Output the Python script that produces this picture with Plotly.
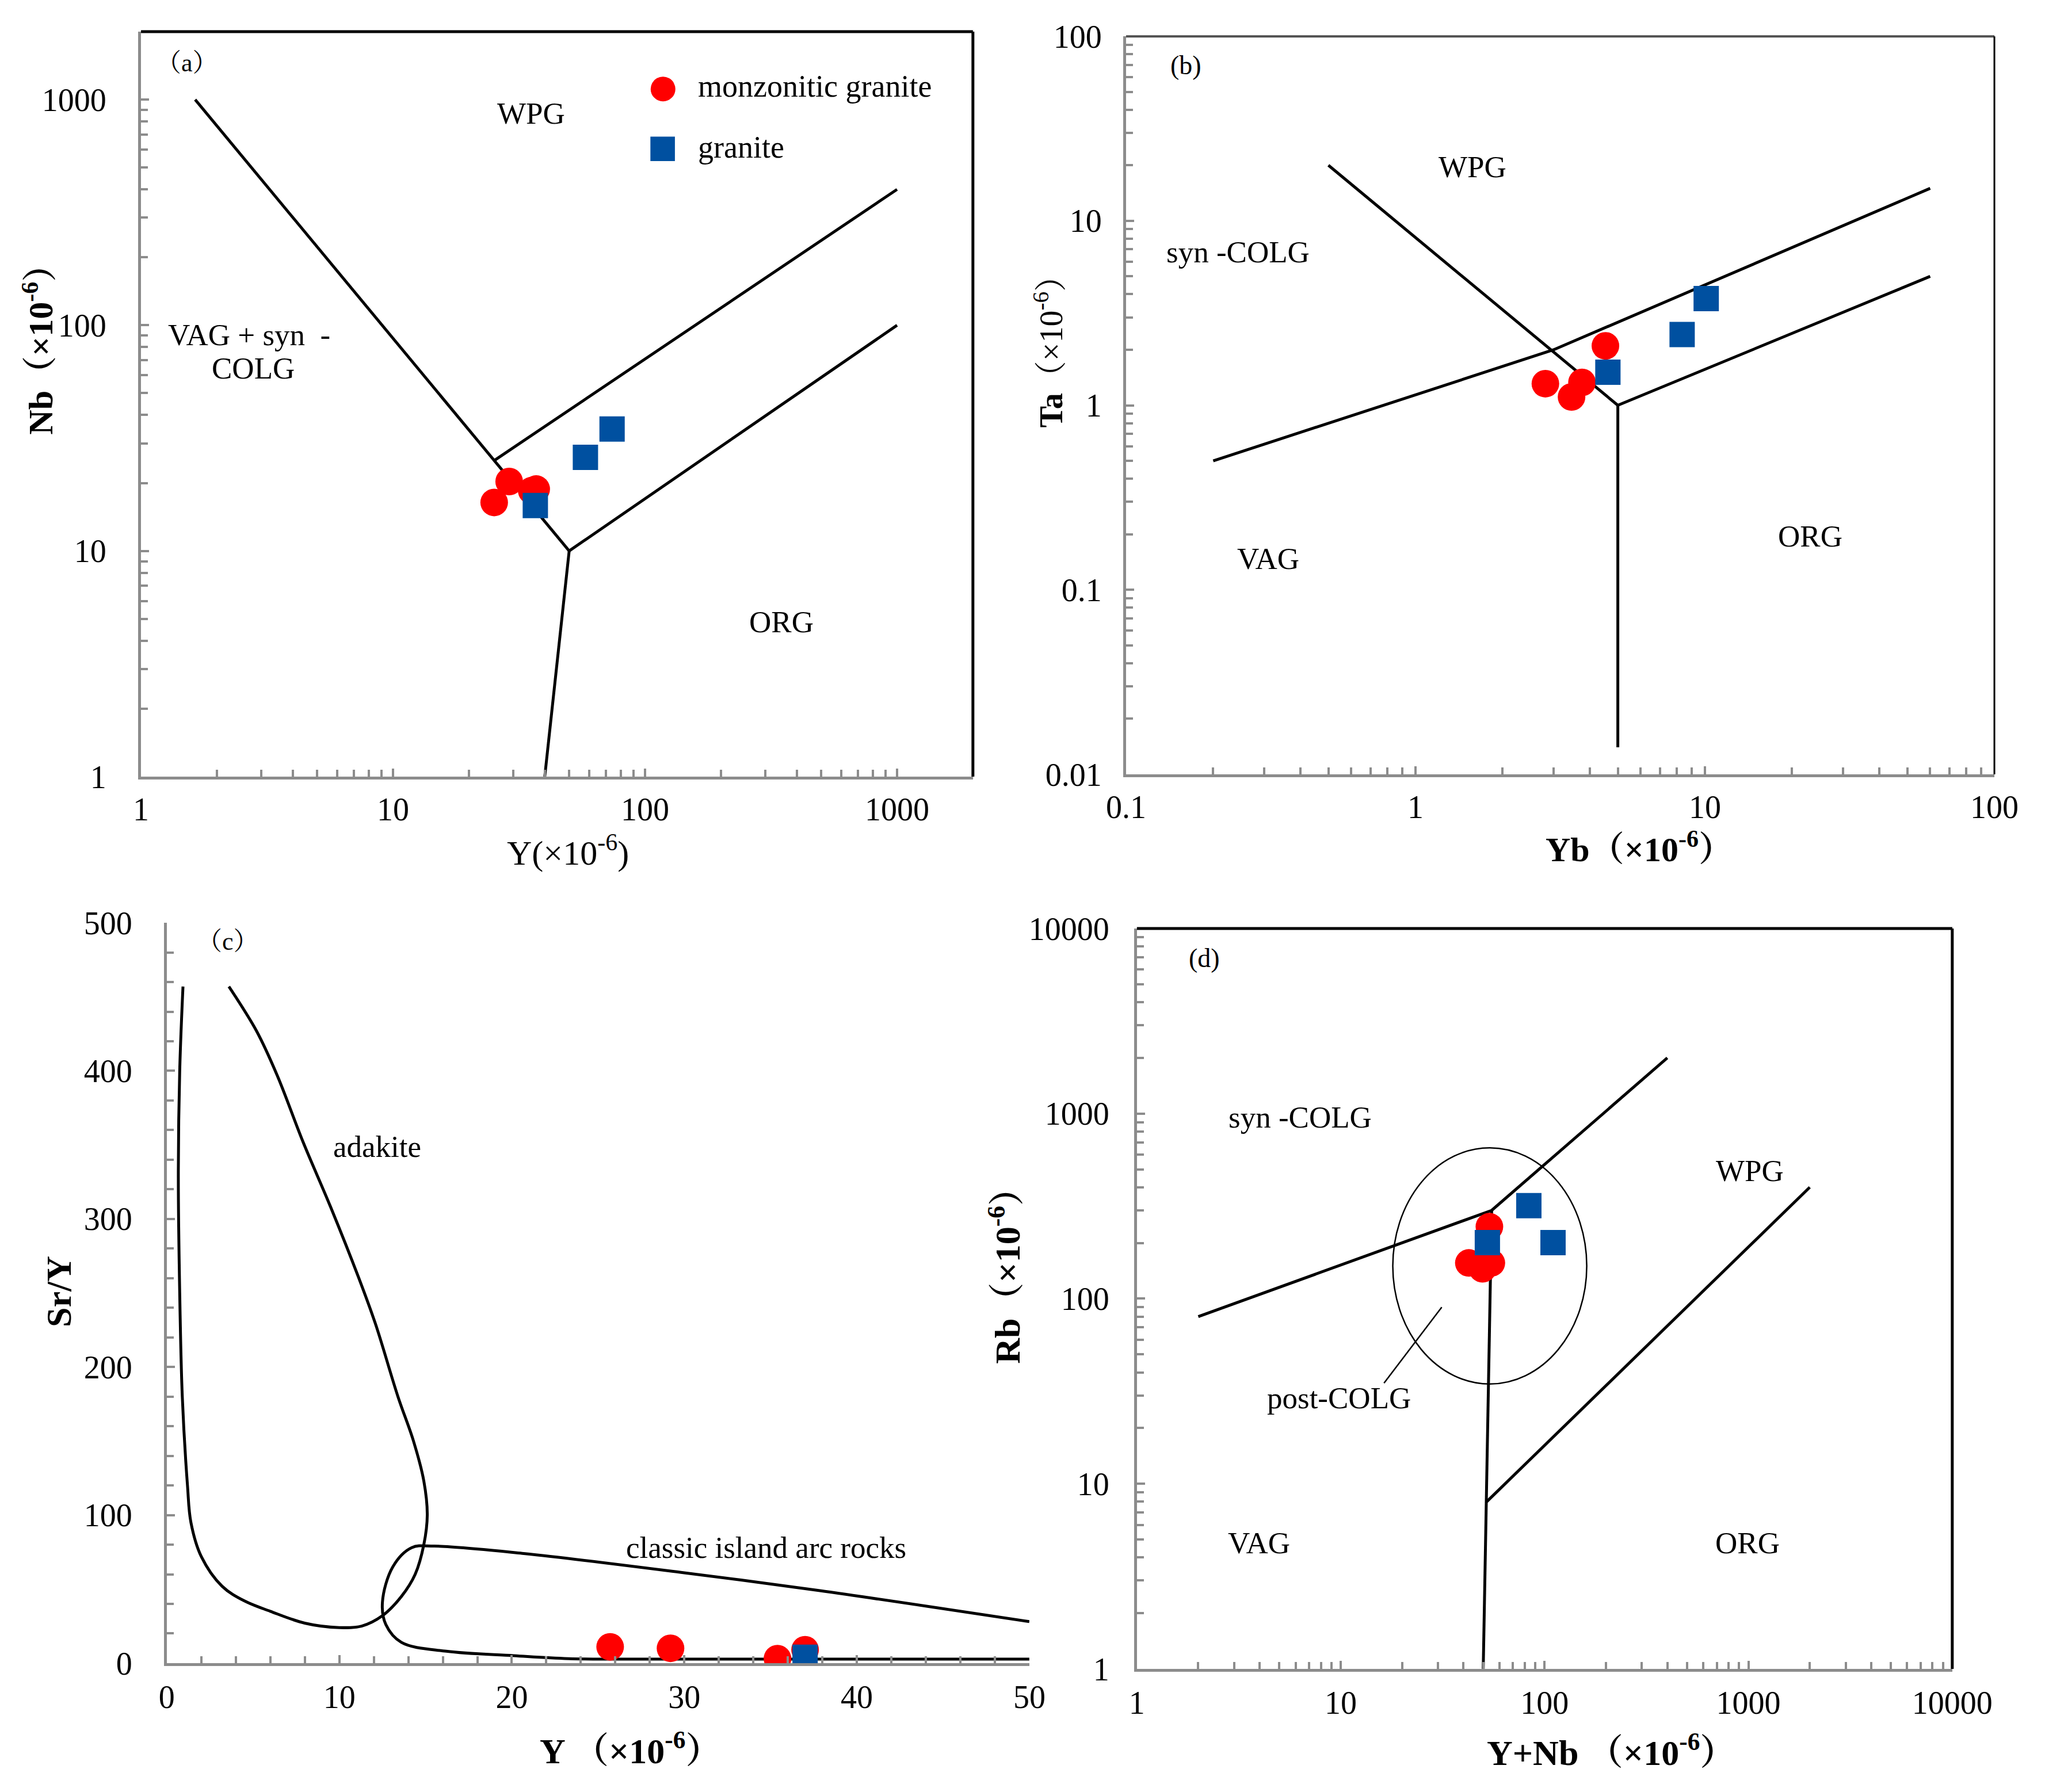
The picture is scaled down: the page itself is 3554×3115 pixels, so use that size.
import plotly.graph_objects as go

FONT = "Liberation Serif, Noto Serif CJK SC, Noto Sans CJK SC, serif"
GREY = "#8c8c8c"
RED = "#ff0000"
BLUE = "#0050a0"

# ---------------- (a) Y vs Nb ----------------
a_mg_Y = [25.2, 28.9, 35.5, 37.0]
a_mg_Nb = [16.4, 20.3, 18.5, 18.8]
a_gr_Y = [36.7, 58.0, 74.0]
a_gr_Nb = [15.9, 26.0, 34.7]
a_line1_x = [1.64, 50]          # WPG / VAG+syn-COLG
a_line1_y = [1000, 10]
a_line2_x = [25, 1000]          # WPG / ORG
a_line2_y = [25, 400]
a_line3_x = [50, 1000]          # ORG lower
a_line3_y = [10, 100]
a_line4_x = [50, 40]            # VAG / ORG
a_line4_y = [10, 1]

# ---------------- (b) Yb vs Ta ----------------
b_mg_Yb = [2.81, 3.46, 3.76, 4.53]
b_mg_Ta = [1.31, 1.11, 1.33, 2.10]
b_gr_Yb = [4.62, 8.34, 10.1]
b_gr_Ta = [1.51, 2.42, 3.79]
b_line1_x = [0.5, 5]
b_line1_y = [20, 1]
b_line2_x = [0.2, 3, 60]
b_line2_y = [0.5, 2, 15]
b_line3_x = [5, 60]
b_line3_y = [1, 5]
b_line4_x = [5, 5]
b_line4_y = [1, 0.014]

# ---------------- (c) Y vs Sr/Y ----------------
c_mg_Y = [25.7, 29.2, 35.4, 37.0]
c_mg_SrY = [11, 10, 3, 9]
c_gr_Y = [37.0]
c_gr_SrY = [4]
adakite_x = [0.94, 0.75, 0.67, 0.75, 0.9, 1.2, 1.4, 2.0, 3.2, 4.5, 6.0, 8.0, 10.0, 11.3,
             12.5, 13.6, 14.4, 14.9, 15.1, 14.9, 14.3, 13.4, 12.1, 11.1, 9.5, 7.9, 6.4, 5.2, 3.6]
adakite_y = [457, 400, 330, 250, 180, 120, 95, 72, 52, 42, 35, 27, 24, 25,
             32, 45, 60, 80, 100, 123, 150, 180, 229, 261, 308, 352, 397, 427, 457]
arc_x = [50, 37.8, 30, 20.7, 15.5, 14.2, 13.1, 12.5, 12.7, 13.6, 16.2, 20.1, 23.3, 30, 50]
arc_y = [28, 49, 61, 74, 79, 78, 65, 41, 26, 14, 8, 5, 3, 2.7, 2.7]

# ---------------- (d) Y+Nb vs Rb ----------------
d_mg_YNb = [42.5, 49.6, 54.8, 53.6]
d_mg_Rb = [156, 145, 156, 245]
d_gr_YNb = [52.4, 83.7, 110]
d_gr_Rb = [201, 318, 201]
d_line1_x = [2, 55, 400]
d_line1_y = [80, 300, 2000]
d_line2_x = [55, 52, 50]
d_line2_y = [300, 8, 1]
d_line3_x = [52, 2000]
d_line3_y = [8, 400]
d_ptr_x = [31.3, 16.3]
d_ptr_y = [90, 35]
d_ellipse_x = [18, 161]
d_ellipse_y = [34.6, 653]

fig = go.Figure()


def add_line(x, y, xa, ya, width=5, shape="linear"):
    fig.add_trace(go.Scatter(x=x, y=y, mode="lines", xaxis=xa, yaxis=ya,
                             line=dict(color="black", width=width, shape=shape),
                             showlegend=False, hoverinfo="skip"))


def add_points(x, y, xa, ya, name, sym, color, size):
    fig.add_trace(go.Scatter(x=x, y=y, mode="markers", xaxis=xa, yaxis=ya, name=name,
                             marker=dict(symbol=sym, color=color, size=size, line=dict(width=0)),
                             showlegend=False))


# panel a
for lx, ly in [(a_line1_x, a_line1_y), (a_line2_x, a_line2_y), (a_line3_x, a_line3_y), (a_line4_x, a_line4_y)]:
    add_line(lx, ly, "x", "y")
add_points(a_mg_Y, a_mg_Nb, "x", "y", "monzonitic granite", "circle", RED, 48)
add_points(a_gr_Y, a_gr_Nb, "x", "y", "granite", "square", BLUE, 44)

# panel b
for lx, ly in [(b_line1_x, b_line1_y), (b_line2_x, b_line2_y), (b_line3_x, b_line3_y), (b_line4_x, b_line4_y)]:
    add_line(lx, ly, "x2", "y2")
add_points(b_mg_Yb, b_mg_Ta, "x2", "y2", "monzonitic granite", "circle", RED, 48)
add_points(b_gr_Yb, b_gr_Ta, "x2", "y2", "granite", "square", BLUE, 44)

# panel c
add_line(adakite_x, adakite_y, "x3", "y3", width=5, shape="spline")
add_line(arc_x, arc_y, "x3", "y3", width=5, shape="spline")
add_points(c_mg_Y, c_mg_SrY, "x3", "y3", "monzonitic granite", "circle", RED, 48)
add_points(c_gr_Y, c_gr_SrY, "x3", "y3", "granite", "square", BLUE, 44)

# panel d
for lx, ly in [(d_line1_x, d_line1_y), (d_line2_x, d_line2_y), (d_line3_x, d_line3_y)]:
    add_line(lx, ly, "x4", "y4")
add_line(d_ptr_x, d_ptr_y, "x4", "y4", width=2.5)
add_points(d_mg_YNb, d_mg_Rb, "x4", "y4", "monzonitic granite", "circle", RED, 48)
add_points(d_gr_YNb, d_gr_Rb, "x4", "y4", "granite", "square", BLUE, 44)


def log_minor(lo, hi):
    vals = []
    for k in range(lo, hi):
        for m in range(2, 10):
            vals.append(m * 10 ** k)
    return vals


def ax(**kw):
    base = dict(showline=True, linecolor=GREY, linewidth=5, ticks="inside", tickcolor=GREY,
                tickwidth=4, ticklen=14, showgrid=False, zeroline=False, automargin=False,
                tickfont=dict(family=FONT, size=56, color="black"))
    base.update(kw)
    return base


def logax(vals, texts, minor_vals, rng, **kw):
    return ax(type="log", range=rng, tickmode="array", tickvals=vals, ticktext=texts,
              minor=dict(tickmode="array", tickvals=minor_vals, ticks="inside", ticklen=12,
                         tickcolor=GREY, tickwidth=4, showgrid=False), **kw)


fig.update_layout(
    width=3554, height=3115,
    margin=dict(l=0, r=0, t=0, b=0),
    paper_bgcolor="white", plot_bgcolor="white",
    showlegend=False,
    font=dict(family=FONT, color="black"),
    xaxis=logax([1, 10, 100, 1000], ["1", "10", "100", "1000"], log_minor(0, 4), [0, 3.301],
                domain=[0.0667, 0.4735], anchor="y", ticklabelstandoff=4),
    yaxis=logax([1, 10, 100, 1000], ["1", "10", "100", "1000"], log_minor(0, 4), [0, 3.301],
                domain=[0.5692, 0.9849], anchor="x", ticklabelstandoff=44),
    xaxis2=logax([0.1, 1, 10, 100], ["0.1", "1", "10", "100"], log_minor(-1, 2), [-1, 2],
                 domain=[0.5484, 0.9730], anchor="y2", ticklabelstandoff=4),
    yaxis2=logax([0.01, 0.1, 1, 10, 100], ["0.01", "0.1", "1", "10", "100"], log_minor(-2, 2), [-2, 2],
                 domain=[0.5705, 0.9823], anchor="x2", ticklabelstandoff=26),
    xaxis3=ax(range=[0, 50], tickmode="array", tickvals=[0, 10, 20, 30, 40, 50],
              minor=dict(dtick=2, ticks="inside", ticklen=12, tickcolor=GREY, tickwidth=4, showgrid=False),
              domain=[0.0793, 0.5011], anchor="y3", ticklabelstandoff=6),
    yaxis3=ax(range=[0, 500], tickmode="array", tickvals=[0, 100, 200, 300, 400, 500],
              minor=dict(dtick=20, ticks="inside", ticklen=12, tickcolor=GREY, tickwidth=4, showgrid=False),
              domain=[0.0745, 0.4876], anchor="x3", ticklabelstandoff=44),
    xaxis4=logax([1, 10, 100, 1000, 10000], ["1", "10", "100", "1000", "10000"], log_minor(0, 4), [0, 4],
                 domain=[0.5537, 0.9524], anchor="y4", ticklabelstandoff=6),
    yaxis4=logax([1, 10, 100, 1000, 10000], ["1", "10", "100", "1000", "10000"], log_minor(0, 4), [0, 4],
                 domain=[0.0713, 0.4844], anchor="x4", ticklabelstandoff=32),
)

# frames on top / right
shapes = []
for xr, yr, top_c, top_w, right_c, right_w in [("x", "y", "black", 5, "black", 5),
                                               ("x2", "y2", "#505050", 4, "black", 3),
                                               ("x4", "y4", "black", 5, "black", 5)]:
    shapes.append(dict(type="line", xref=xr + " domain", yref=yr + " domain", x0=0, x1=1, y0=1, y1=1,
                       line=dict(color=top_c, width=top_w)))
    shapes.append(dict(type="line", xref=xr + " domain", yref=yr + " domain", x0=1, x1=1, y0=0, y1=1,
                       line=dict(color=right_c, width=right_w)))
# post-COLG field
shapes.append(dict(type="circle", xref="x4", yref="y4",
                   x0=d_ellipse_x[0], x1=d_ellipse_x[1], y0=d_ellipse_y[0], y1=d_ellipse_y[1],
                   line=dict(color="black", width=2.5)))
fig.update_layout(shapes=shapes)

ann = []


def label(text, xr, yr, x, y, size=53, xanchor="center", color="black", **kw):
    ann.append(dict(text=text, xref=xr, yref=yr, x=x, y=y, showarrow=False, xanchor=xanchor,
                    yanchor="middle", font=dict(family=FONT, size=size, color=color), **kw))


# panel a labels
label("（a）", "x domain", "y domain", 0.055, 0.958, size=44)
label("WPG", "x domain", "y domain", 0.469, 0.890)
label("VAG + syn  -", "x domain", "y domain", 0.13, 0.593)
label("COLG", "x domain", "y domain", 0.135, 0.548)
label("ORG", "x domain", "y domain", 0.770, 0.208)
# legend keys
label("●", "x domain", "y domain", 0.627, 0.927, size=100, color=RED)
label("■", "x domain", "y domain", 0.627, 0.845, size=88, color=BLUE)
label("monzonitic granite", "x domain", "y domain", 0.668, 0.927, size=54, xanchor="left")
label("granite", "x domain", "y domain", 0.668, 0.845, size=54, xanchor="left")

# panel b labels
label("(b)", "x2 domain", "y2 domain", 0.069, 0.961, size=46)
label("WPG", "x2 domain", "y2 domain", 0.399, 0.823)
label("syn -COLG", "x2 domain", "y2 domain", 0.045, 0.708, xanchor="left")
label("VAG", "x2 domain", "y2 domain", 0.164, 0.292)
label("ORG", "x2 domain", "y2 domain", 0.788, 0.323)

# panel c labels
label("（c）", "x3 domain", "y3 domain", 0.071, 0.975, size=44)
label("adakite", "x3 domain", "y3 domain", 0.244, 0.698)
label("classic island arc rocks", "x3 domain", "y3 domain", 0.695, 0.156)

# panel d labels
label("(d)", "x4 domain", "y4 domain", 0.083, 0.96, size=46)
label("syn -COLG", "x4 domain", "y4 domain", 0.2, 0.745)
label("WPG", "x4 domain", "y4 domain", 0.752, 0.673)
label("post-COLG", "x4 domain", "y4 domain", 0.248, 0.366)
label("VAG", "x4 domain", "y4 domain", 0.15, 0.17)
label("ORG", "x4 domain", "y4 domain", 0.749, 0.17)

# axis titles
label("Y(×10<sup>-6</sup>)", "paper", "paper", 0.2755, 0.528, size=60)
label("<b>Nb（×10<sup>-6</sup>）</b>", "paper", "paper", 0.0165, 0.8122, size=60, textangle=-90)
label("<b>Yb（×10<sup>-6</sup>）</b>", "paper", "paper", 0.7995, 0.530, size=60)
label("<b>Ta</b>（×10<sup>-6</sup>）", "paper", "paper", 0.5105, 0.8109, size=56, textangle=-90)
label("<b>Y （×10<sup>-6</sup>）</b>", "paper", "paper", 0.3061, 0.0270, size=62)
label("<b>Sr/Y</b>", "paper", "paper", 0.0265, 0.2819, size=62, textangle=-90)
label("<b>Y+Nb （×10<sup>-6</sup>）</b>", "paper", "paper", 0.7855, 0.0260, size=62)
label("<b>Rb（×10<sup>-6</sup>）</b>", "paper", "paper", 0.489, 0.2957, size=62, textangle=-90)

fig.update_layout(annotations=ann)

fig.write_html("out.html")
